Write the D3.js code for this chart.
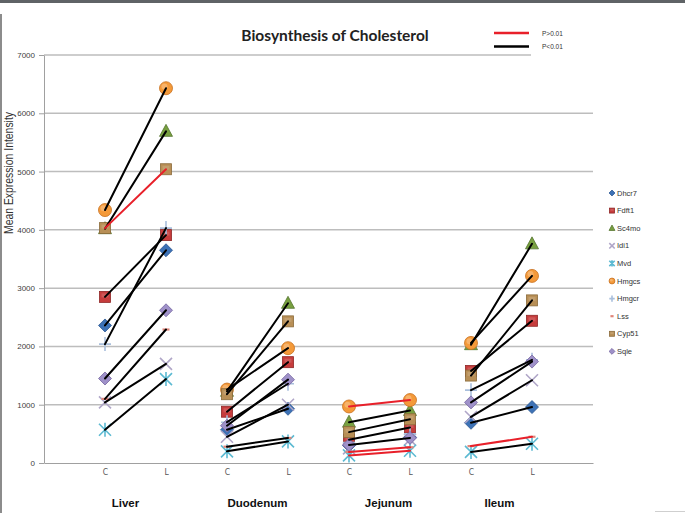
<!DOCTYPE html>
<html><head><meta charset="utf-8">
<script src="https://cdn.jsdelivr.net/npm/d3@7"></script>
<style>html,body{margin:0;padding:0;background:#fff;}svg{display:block;}</style>
</head><body>
<svg id="chart" width="685" height="513"></svg>
<script>
// ---------- data ----------
const tissues = ['Liver', 'Duodenum', 'Jejunum', 'Ileum'];
const groups = ['C', 'L'];
const genes = ['Dhcr7', 'Fdft1', 'Sc4mo', 'Idi1', 'Mvd', 'Hmgcs', 'Hmgcr', 'Lss', 'Cyp51', 'Sqle'];
const yTicks = [0, 1000, 2000, 3000, 4000, 5000, 6000, 7000];
const pLegend = ['P>0.01', 'P<0.01'];

// values per gene: Liver C, Liver L, Duodenum C, Duodenum L, Jejunum C, Jejunum L, Ileum C, Ileum L
const dhcr7 = [2360, 3650, 570, 930, 300, 440, 690, 960];
const fdft1 = [2850, 3910, 880, 1730, 400, 610, 1580, 2440];
const sc4mo = [4020, 5690, 1230, 2740, 700, 900, 2030, 3760];
const idi1  = [1040, 1700, 450, 1000, 250, 400, 790, 1420];
const mvd   = [570, 1440, 200, 370, 130, 210, 190, 330];
const hmgcs = [4340, 6430, 1260, 1970, 970, 1080, 2060, 3210];
const hmgcr = [2040, 4030, 700, 1360, 350, 500, 1250, 1770];
const lss   = [1100, 2290, 280, 430, 190, 270, 290, 450];
const cyp51 = [4030, 5040, 1180, 2430, 530, 750, 1500, 2790];
const sqle  = [1450, 2620, 640, 1430, 310, 430, 1040, 1740];
const seriesValues = [dhcr7, fdft1, sc4mo, idi1, mvd, hmgcs, hmgcr, lss, cyp51, sqle];

// connecting-line significance per tissue (gene order): '<' P<0.01, '>' P>0.01, '' none
const sigLiver    = ['<', '<', '<', '<', '<', '<', '<', '<', '>', '<'];
const sigDuodenum = ['<', '<', '<', '<', '<', '<', '<', '<', '<', '<'];
const sigJejunum  = ['', '<', '<', '', '>', '>', '', '>', '<', '<'];
const sigIleum    = ['<', '<', '<', '<', '<', '<', '<', '>', '<', '<'];
const sigAll = [sigLiver, sigDuodenum, sigJejunum, sigIleum];

// ---------- styles ----------
const markerStyle = {
  Dhcr7: {shape: 'diamond', fill: '#3d72b6', stroke: '#2a5590'},
  Fdft1: {shape: 'square', fill: '#c63c3c', stroke: '#8e2626'},
  Sc4mo: {shape: 'triangle', fill: '#78a040', stroke: '#557530'},
  Idi1:  {shape: 'x', fill: 'none', stroke: '#b0a6c8'},
  Mvd:   {shape: 'star', fill: 'none', stroke: '#5cbad2'},
  Hmgcs: {shape: 'circle', fill: '#f49a3a', stroke: '#c8701e'},
  Hmgcr: {shape: 'plus', fill: 'none', stroke: '#a9bfdc'},
  Lss:   {shape: 'dash', fill: 'none', stroke: '#e0867a'},
  Cyp51: {shape: 'square', fill: '#b88f56', stroke: '#8a6a3a'},
  Sqle:  {shape: 'diamond', fill: '#9f91c9', stroke: '#7565a0'}
};
const lineColor = {'<': '#000000', '>': '#e8202a'};

const svg = d3.select('#chart');
const W = 685, H = 513;

// borders of the screenshot
svg.append('rect').attr('x', 0).attr('y', 0).attr('width', W).attr('height', 3).attr('fill', '#5f6366');
svg.append('rect').attr('x', 0).attr('y', 14).attr('width', 2).attr('height', H - 14).attr('fill', '#8c8c8c');
svg.append('line').attr('x1', 655).attr('x2', 685).attr('y1', 511.5).attr('y2', 511.5).attr('stroke', '#cfcfcf');

const x = d3.scaleLinear().domain([0, 9]).range([44, 593]);
const y = d3.scaleLinear().domain([0, 7000]).range([463, 55]);

// gridlines
svg.append('g').selectAll('line').data(yTicks.slice(1)).join('line')
  .attr('x1', x(0)).attr('x2', x(9))
  .attr('y1', d => y(d)).attr('y2', d => y(d))
  .attr('stroke', '#bdbdbd').attr('stroke-width', 1.5);

// y axis
const yAxis = d3.axisLeft(y).tickValues(yTicks).tickSize(5).tickSizeOuter(0).tickPadding(4)
  .tickFormat(d3.format('d'));
const gy = svg.append('g').attr('transform', `translate(${x(0)},0)`).call(yAxis);
gy.select('.domain').attr('stroke', '#a0a0a0');
gy.selectAll('.tick line').attr('stroke', '#a0a0a0');
gy.selectAll('.tick text').attr('font-family', 'Liberation Sans, Arial, sans-serif')
  .attr('font-size', 8).attr('fill', '#404040');

// x axis
const catIdx = d3.range(1, 9);
const xAxis = d3.axisBottom(x).tickValues(catIdx).tickSize(0).tickPadding(6)
  .tickFormat(i => groups[(i - 1) % 2]);
const gx = svg.append('g').attr('transform', `translate(0,${y(0)})`).call(xAxis);
gx.select('.domain').attr('stroke', '#a0a0a0').attr('stroke-width', 1.2);
gx.selectAll('.tick text').attr('font-family', 'Liberation Sans Narrow, DejaVu Sans Condensed, sans-serif')
  .attr('font-size', 8.5).attr('fill', '#555');

// tissue labels
const tissueOffset = [-10, 0, 9, -2];
svg.append('g').selectAll('text').data(tissues).join('text')
  .attr('x', (d, i) => (x(1 + 2 * i) + x(2 + 2 * i)) / 2 + tissueOffset[i])
  .attr('y', 507)
  .attr('text-anchor', 'middle')
  .attr('font-family', 'Liberation Sans, Arial, sans-serif')
  .attr('font-weight', 'bold').attr('font-size', 11.5).attr('fill', '#111')
  .text(d => d);

// y title
svg.append('text')
  .attr('transform', 'translate(13,173) rotate(-90)')
  .attr('text-anchor', 'middle')
  .attr('font-family', 'Liberation Sans, Arial, sans-serif')
  .attr('font-size', 12).attr('fill', '#333')
  .attr('textLength', 122).attr('lengthAdjust', 'spacingAndGlyphs')
  .text('Mean Expression Intensity');

// title
svg.append('text')
  .attr('x', 335).attr('y', 41).attr('text-anchor', 'middle')
  .attr('font-family', 'Lato, Open Sans, sans-serif')
  .attr('font-weight', 'bold').attr('font-size', 15.5).attr('fill', '#222')
  .text('Biosynthesis of Cholesterol');

// marker drawing
function drawMarker(g, shape, st, k) {
  switch (shape) {
    case 'circle':
      g.append('circle').attr('r', 6.5 * k).attr('fill', st.fill).attr('stroke', st.stroke).attr('stroke-width', 0.8);
      g.append('circle').attr('r', 3 * k).attr('cx', -1.5 * k).attr('cy', -1.8 * k).attr('fill', '#fff').attr('opacity', 0.25);
      break;
    case 'square':
      g.append('rect').attr('x', -5.5 * k).attr('y', -5.5 * k).attr('width', 11 * k).attr('height', 11 * k)
        .attr('fill', st.fill).attr('stroke', st.stroke).attr('stroke-width', 0.8);
      g.append('rect').attr('x', -3.5 * k).attr('y', -3.5 * k).attr('width', 7 * k).attr('height', 4 * k)
        .attr('fill', '#fff').attr('opacity', 0.15);
      break;
    case 'diamond':
      g.append('path').attr('d', `M0,${-6.5 * k}L${6.5 * k},0L0,${6.5 * k}L${-6.5 * k},0Z`)
        .attr('fill', st.fill).attr('stroke', st.stroke).attr('stroke-width', 0.8);
      break;
    case 'triangle':
      g.append('path').attr('d', `M0,${-7 * k}L${6.5 * k},${5 * k}L${-6.5 * k},${5 * k}Z`)
        .attr('fill', st.fill).attr('stroke', st.stroke).attr('stroke-width', 0.8);
      break;
    case 'x':
      g.append('path').attr('d', `M${-6 * k},${-6 * k}L${6 * k},${6 * k}M${6 * k},${-6 * k}L${-6 * k},${6 * k}`)
        .attr('stroke', st.stroke).attr('stroke-width', 1.6);
      break;
    case 'star':
      g.append('path').attr('d', `M${-6 * k},${-6 * k}L${6 * k},${6 * k}M${6 * k},${-6 * k}L${-6 * k},${6 * k}M0,${-7 * k}L0,${7 * k}`)
        .attr('stroke', st.stroke).attr('stroke-width', 1.6);
      break;
    case 'plus':
      g.append('path').attr('d', `M${-6 * k},0L${6 * k},0M0,${-7 * k}L0,${7 * k}`)
        .attr('stroke', st.stroke).attr('stroke-width', 1.6);
      break;
    case 'dash':
      g.append('path').attr('d', `M${-3.5 * k},0L${3.5 * k},0`)
        .attr('stroke', st.stroke).attr('stroke-width', 2.2);
      break;
  }
}

// markers (series order, later series on top)
const markLayer = svg.append('g');
genes.forEach((gname, gi) => {
  const st = markerStyle[gname];
  seriesValues[gi].forEach((v, ci) => {
    const g = markLayer.append('g').attr('transform', `translate(${x(ci + 1)},${y(v)})`);
    drawMarker(g, st.shape, st, 1);
  });
});

// connecting lines (drawn over markers)
const lineLayer = svg.append('g');
tissues.forEach((t, ti) => {
  genes.forEach((gname, gi) => {
    const s = sigAll[ti][gi];
    if (!s) return;
    const vals = seriesValues[gi];
    lineLayer.append('line')
      .attr('x1', x(1 + 2 * ti)).attr('y1', y(vals[2 * ti]))
      .attr('x2', x(2 + 2 * ti)).attr('y2', y(vals[2 * ti + 1]))
      .attr('stroke', lineColor[s]).attr('stroke-width', 2).attr('stroke-linecap', 'round');
  });
});

// top legend (line types) with white box hiding gridline end
svg.append('rect').attr('x', 531).attr('y', 20).attr('width', 70).attr('height', 40).attr('fill', '#fff');
const lg = svg.append('g');
pLegend.forEach((lab, i) => {
  const yy = 33 + i * 13.5;
  lg.append('line').attr('x1', 494).attr('x2', 529).attr('y1', yy).attr('y2', yy)
    .attr('stroke', i === 0 ? lineColor['>'] : lineColor['<']).attr('stroke-width', 2.6);
  lg.append('text').attr('x', 542).attr('y', yy + 2.5)
    .attr('font-family', 'Liberation Sans, Arial, sans-serif').attr('font-size', 6.5).attr('fill', '#333')
    .text(lab);
});

// series legend
const sl = svg.append('g');
genes.forEach((gname, gi) => {
  const yy = 193 + gi * 17.6;
  const g = sl.append('g').attr('transform', `translate(612,${yy})`);
  drawMarker(g, markerStyle[gname].shape, markerStyle[gname], 0.45);
  sl.append('text').attr('x', 617).attr('y', yy + 2.6)
    .attr('font-family', 'Liberation Sans, Arial, sans-serif').attr('font-size', 7.5).attr('fill', '#333')
    .text(gname);
});
</script>
</body></html>
